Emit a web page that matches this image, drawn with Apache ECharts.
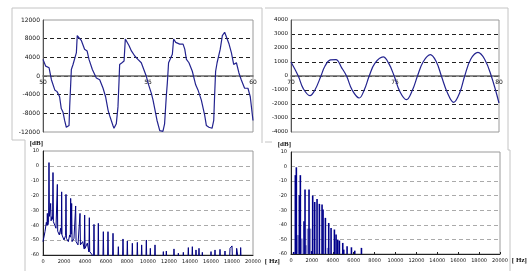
<!DOCTYPE html>
<html>
<head>
<meta charset="UTF-8">
<script src="https://cdn.jsdelivr.net/npm/echarts@6/dist/echarts.min.js"></script>
<style>
    html, body { margin: 0; background: #fff; }
    #main { width: 531px; height: 271px; }
</style>
</head>
<body>
<div id="main"></div>
<script>
// waveform 1: time [ms], amplitude
var tlWave = [[50.00,3560],[50.13,2110],[50.29,1750],[50.40,-800],[50.56,-2980],[50.67,-3350],[50.79,-4440],[50.87,-6980],[50.95,-7710],[51.03,-9530],[51.11,-10980],[51.19,-11200],[51.24,-10600],[51.27,-6620],[51.35,1380],[51.43,2470],[51.51,2110],[51.59,5020],[51.63,8650],[51.70,9020],[51.83,7560],[51.98,5750],[52.10,5380],[52.19,3560],[52.35,1380],[52.54,-440],[52.70,-800],[52.86,-2620],[52.98,-4440],[53.10,-7350],[53.17,-8440],[53.33,-10620],[53.38,-11200],[53.49,-10250],[53.57,-6620],[53.62,-1160],[53.65,2470],[53.76,2840],[53.86,3200],[53.92,7930],[53.97,8290],[54.10,6470],[54.21,5380],[54.37,4290],[54.52,3560],[54.68,2840],[54.92,-70],[55.03,-1890],[55.16,-3710],[55.24,-5160],[55.32,-6980],[55.43,-9530],[55.56,-11700],[55.71,-11850],[55.79,-10250],[55.87,-4440],[55.92,-1530],[55.98,2840],[56.06,3200],[56.16,4650],[56.22,7930],[56.32,7200],[56.51,6840],[56.67,6840],[56.75,5750],[56.83,3560],[56.95,2840],[57.11,1020],[57.27,-1890],[57.38,-2980],[57.54,-5160],[57.70,-8440],[57.78,-10620],[57.90,-10980],[58.05,-11200],[58.13,-9530],[58.17,-4440],[58.22,1020],[58.29,2840],[58.38,3200],[58.44,5750],[58.54,8650],[58.65,9380],[58.73,9020],[58.86,6840],[58.97,5020],[59.08,2470],[59.21,2840],[59.33,650],[59.44,-800],[59.60,-2620],[59.76,-2620],[59.87,-4440],[60.00,-9530]];

// waveform 2
var trWave = [[70.00,1000],[70.35,0],[70.59,-900],[70.91,-1400],[71.15,-1000],[71.44,0],[71.63,700],[71.90,1150],[72.16,1170],[72.43,600],[72.67,0],[72.94,-1000],[73.28,-1570],[73.52,-1000],[73.76,0],[74.03,900],[74.43,1360],[74.70,900],[74.96,0],[75.23,-1100],[75.55,-1690],[75.84,-1000],[76.08,0],[76.35,1000],[76.70,1520],[76.99,1000],[77.23,0],[77.52,-1200],[77.82,-1880],[78.11,-1200],[78.35,0],[78.64,1200],[78.99,1690],[79.31,1200],[79.63,0],[80.00,-1930]];

// spectrum 1: Hz, dB (values under -60 fall below the plot)
var blSpec = [[0,-51],[95,-49.9],[190,-44.3],[317,-38],[380,-40],[413,-32],[450,-40],[530,-38],[571,2.2],[610,-34],[680,-30],[730,-25.3],[770,-37],[857,-34.2],[915,-36],[952,-4.5],[990,-37.6],[1143,-36.5],[1238,-42],[1330,-43],[1365,-12.5],[1400,-44],[1556,-46.5],[1683,-42],[1745,-46],[1778,-17.5],[1810,-46.5],[2000,-49.9],[2150,-47],[2190,-19.2],[2230,-48.8],[2413,-51],[2540,-46.5],[2600,-48],[2635,-21.9],[2680,-46],[2730,-25.3],[2770,-51],[2952,-48.8],[3075,-50],[3111,-27],[3150,-51],[3333,-53.2],[3485,-54],[3524,-32],[3565,-53.2],[3778,-51],[3930,-56],[3968,-33.1],[4005,-55.5],[4222,-52],[4375,-58],[4413,-34.9],[4450,-57.7],[4698,-60],[4820,-62],[4857,-39.4],[4895,-62],[5230,-62],[5270,-38.7],[5310,-62],[5706,-62],[5746,-44.3],[5786,-62],[6150,-62],[6190,-44.3],[6230,-62],[6627,-62],[6667,-45.4],[6707,-62],[7135,-62],[7175,-54.4],[7215,-62],[7579,-62],[7619,-49.2],[7659,-62],[7992,-62],[8032,-50.6],[8072,-62],[8468,-62],[8508,-52.1],[8548,-62],[8944,-62],[8984,-51.5],[9024,-62],[9357,-62],[9397,-53.2],[9437,-62],[9801,-62],[9841,-49.9],[9881,-62],[10182,-62],[10222,-55.5],[10262,-62],[10627,-62],[10667,-53.2],[10707,-62],[11420,-62],[11460,-57.7],[11500,-62],[11706,-62],[11746,-57.3],[11786,-62],[12436,-62],[12476,-55.9],[12516,-62],[12849,-62],[12889,-58.8],[12929,-62],[13325,-62],[13365,-58.2],[13405,-62],[13801,-62],[13841,-55],[13881,-62],[14182,-62],[14222,-54.4],[14262,-62],[14531,-62],[14571,-56.6],[14611,-62],[14817,-62],[14857,-55.5],[14897,-62],[15135,-62],[15175,-58.2],[15215,-62],[15960,-62],[16000,-57.7],[16040,-62],[16341,-62],[16381,-56.6],[16421,-62],[16817,-62],[16857,-56.2],[16897,-62],[17293,-62],[17333,-57.3],[17373,-62],[17770,-62],[17810,-55.5],[17905,-56],[18000,-53.9],[18040,-62],[18404,-62],[18444,-55.5],[18540,-55],[18580,-62],[18785,-62],[18825,-55],[18865,-62]];

// spectrum 2: dark lines and light lines
var brDark = [[256,-58.6],[415,-5.9],[511,-0.5],[799,-19.7],[895,-5.9],[1246,-37.5],[1342,-15.8],[1725,-15.8],[1981,-58],[2077,-19.9],[2268,-24.3],[2492,-22.2],[2716,-25.6],[2971,-26.1],[3067,-29.5],[3291,-35.2],[3610,-38.7],[3834,-42.1],[4153,-43.2],[4313,-46.7],[4473,-50.1],[4633,-50.8],[4952,-52.4],[5048,-57],[5367,-54.7],[5783,-55.4],[6102,-57.7],[6741,-55.8]];
var brLight = [[607,-47.1],[703,-47.1],[990,-49.4],[1438,-54],[1629,-42.6],[1821,-42.6],[3546,-55.8]];

var dbTicks = { min: -60, max: 10, interval: 10 };

var chart = echarts.init(document.getElementById('main'));

function plain(v) { return String(v); }

function label(fs, margin) {
    return { fontSize: fs, color: '#111', fontFamily: 'DejaVu Sans', margin: margin, formatter: plain };
}

function unitStyle(extra) {
    return Object.assign({ fontSize: 7, color: '#111', fontFamily: 'Liberation Serif', fontWeight: 'bold' }, extra);
}

function gridBox(l, t, w, h) {
    return { left: l, top: t, width: w, height: h, show: true, borderColor: '#9a9a9a', borderWidth: 1 };
}

// axis line sits on the zero line (grid height 112 -> shift up by half)
function timeAxis(idx, min, max) {
    return {
        gridIndex: idx, type: 'value', min: min, max: max, interval: 5,
        position: 'bottom', offset: -56,
        axisLine: { onZero: false, lineStyle: { color: '#666', width: 1.5 } },
        axisTick: { show: false },
        splitLine: { show: false },
        axisLabel: label(6, 3)
    };
}

function ampAxis(idx, lim, step, fs) {
    return {
        gridIndex: idx, type: 'value', min: -lim, max: lim, interval: step,
        axisLine: { show: true, lineStyle: { color: '#555' } },
        axisTick: { show: false },
        axisLabel: label(fs, 3),
        splitLine: { show: true, showMinLine: false, showMaxLine: false, lineStyle: { color: '#222', type: [4, 3] } }
    };
}

function freqAxis(idx, ticks) {
    return {
        gridIndex: idx, type: 'value', min: 0, max: 20000, interval: 2000,
        name: '[ Hz]', nameLocation: 'end', nameGap: 8,
        nameTextStyle: unitStyle({ verticalAlign: 'top', padding: [3, 0, 0, 0] }),
        axisLine: { onZero: false, lineStyle: { color: '#222' } },
        axisTick: { show: ticks, inside: true, length: 2, lineStyle: { color: '#222' } },
        splitLine: { show: false },
        axisLabel: label(5, 4)
    };
}

function dbAxis(idx) {
    return {
        gridIndex: idx, type: 'value', min: dbTicks.min, max: dbTicks.max, interval: dbTicks.interval,
        name: '[dB]', nameLocation: 'end', nameGap: 4,
        nameTextStyle: unitStyle({ align: 'right', verticalAlign: 'bottom' }),
        axisLine: { show: true, lineStyle: { color: '#222' } },
        axisTick: { show: false },
        axisLabel: label(5, 4),
        splitLine: { show: true, showMinLine: false, showMaxLine: false, lineStyle: { color: '#aaa', type: [4, 3] } }
    };
}

function bars(w) {
    return function (params, api) {
        var top = api.coord([api.value(0), api.value(1)]);
        var base = api.coord([api.value(0), dbTicks.min]);
        return {
            type: 'rect',
            shape: { x: top[0] - w / 2, y: top[1], width: w, height: base[1] - top[1] },
            style: api.style()
        };
    };
}

var frame = { stroke: '#c4c4c4', lineWidth: 1, fill: null };

var option = {
    animation: false,
    backgroundColor: '#fff',
    grid: [
        gridBox(43, 20, 210, 112),
        gridBox(291, 20, 208, 112),
        gridBox(43, 151, 210, 104),
        gridBox(291, 152, 209, 102)
    ],
    xAxis: [
        timeAxis(0, 50, 60),
        timeAxis(1, 70, 80),
        freqAxis(2, false),
        freqAxis(3, true)
    ],
    yAxis: [
        ampAxis(0, 12000, 4000, 6),
        ampAxis(1, 4000, 1000, 5.5),
        dbAxis(2),
        dbAxis(3)
    ],
    graphic: [
        { type: 'polyline', shape: { points: [[25, 271], [25, 140], [12, 140], [12, 8], [262, 8], [262, 143]] }, style: frame, silent: true },
        { type: 'polyline', shape: { points: [[265, 8], [508, 8], [508, 150], [510, 150], [510, 271]] }, style: frame, silent: true },
        { type: 'polyline', shape: { points: [[265, 142], [272, 142]] }, style: frame, silent: true }
    ],
    series: [
        {
            type: 'line', xAxisIndex: 0, yAxisIndex: 0, data: tlWave,
            symbol: 'none', lineStyle: { color: '#23238f', width: 1.2 }
        },
        {
            type: 'line', xAxisIndex: 1, yAxisIndex: 1, data: trWave, smooth: 0.4,
            symbol: 'none', lineStyle: { color: '#23238f', width: 1.2 }
        },
        {
            type: 'line', xAxisIndex: 2, yAxisIndex: 2, data: blSpec, clip: true,
            symbol: 'none', lineStyle: { color: '#000080', width: 1 }
        },
        {
            type: 'custom', xAxisIndex: 3, yAxisIndex: 3, data: brLight,
            renderItem: bars(2.6), encode: { x: 0, y: 1 },
            itemStyle: { color: '#8c8cc8' }
        },
        {
            type: 'custom', xAxisIndex: 3, yAxisIndex: 3, data: brDark,
            renderItem: bars(1.6), encode: { x: 0, y: 1 },
            itemStyle: { color: '#00008b' }
        }
    ]
};

chart.setOption(option);
</script>
</body>
</html>
